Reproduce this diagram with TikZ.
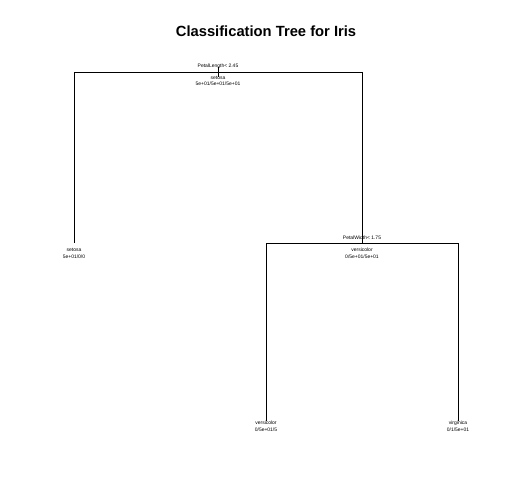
\documentclass[tikz,border=0pt]{standalone}
\usepackage{fontspec}
\setmainfont{Liberation Sans}
\begin{document}
\begin{tikzpicture}[x=1bp,y=-1bp,
  lbl/.style={inner sep=0pt,font=\fontsize{5}{5}\selectfont,text=black},
  ttl/.style={inner sep=0pt,font=\fontsize{14.8}{14.8}\selectfont\bfseries},
  edge/.style={draw=black,line width=0.75pt}]
\useasboundingbox (0,0) rectangle (504,504);
\node[ttl] (title) at (266,31) {Classification Tree for Iris};
% coordinates
\coordinate (root) at (218,72);
\coordinate (rootL) at (74,72);
\coordinate (rootR) at (362,72);
\coordinate (stubT) at (218,67);
\coordinate (stubB) at (218,77);
\coordinate (leaf1) at (74,243);
\coordinate (n2) at (362,243);
\coordinate (n2L) at (266,243);
\coordinate (n2R) at (458,243);
\coordinate (leaf2) at (266,421);
\coordinate (leaf3) at (458,421);
% edges
\draw[edge] (rootL) -- (rootR);
\draw[edge] (stubT) -- (stubB);
\draw[edge] (rootL) -- (leaf1);
\draw[edge] (rootR) -- (n2);
\draw[edge] (n2L) -- (n2R);
\draw[edge] (n2L) -- (leaf2);
\draw[edge] (n2R) -- (leaf3);
% labels
\node[lbl] (s1) at (218,66) {PetalLength< 2.45};
\node[lbl] (c1) at (218,77.5) {setosa};
\node[lbl] (n1) at (218,84) {5e+01/5e+01/5e+01};
\node[lbl] (c2) at (74,250) {setosa};
\node[lbl] (n2t) at (74,256.5) {5e+01/0/0};
\node[lbl] (s2) at (362,238) {PetalWidth< 1.75};
\node[lbl] (c3) at (362,250) {versicolor};
\node[lbl] (n3) at (362,256.5) {0/5e+01/5e+01};
\node[lbl] (c4) at (266,423) {versicolor};
\node[lbl] (n4) at (266,429.5) {0/5e+01/5};
\node[lbl] (c5) at (458,423) {virginica};
\node[lbl] (n5) at (458,429.5) {0/1/5e+01};
\end{tikzpicture}
\end{document}
